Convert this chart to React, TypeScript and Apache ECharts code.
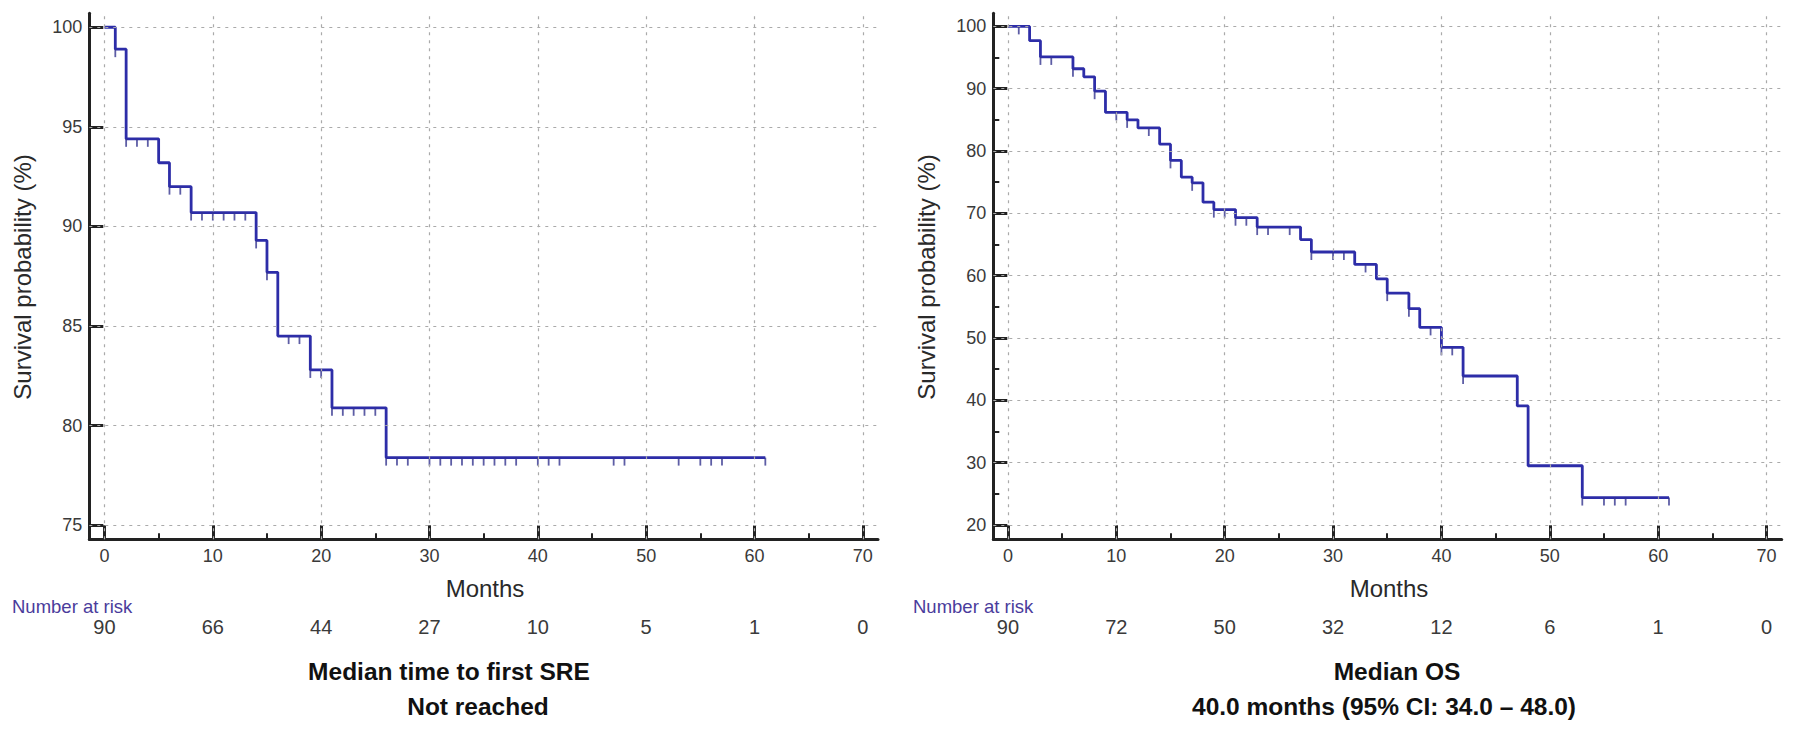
import React, { useEffect, useRef } from 'react';
import * as echarts from 'echarts';

// ---- Data: time to first SRE (left panel) ----
const sreTimes = [0, 1, 2, 5, 6, 8, 14, 15, 16, 19, 21, 26, 61];
const sreSurvival = [100, 98.9, 94.4, 93.2, 92.0, 90.7, 89.3, 87.7, 84.5, 82.8, 80.9, 78.4, 78.4];
const sreCensored = [1, 2, 3, 4, 6, 7, 8, 9, 10, 11, 12, 13, 14, 15, 17, 18, 19, 20, 21, 22, 23, 24, 25,
  26, 27, 28, 30, 31, 32, 33, 34, 35, 36, 37, 38, 40, 41, 42, 47, 48, 53, 55, 56, 57, 61];
const sreAtRisk = [90, 66, 44, 27, 10, 5, 1, 0];
const sreYTicks = [75, 80, 85, 90, 95, 100];

// ---- Data: overall survival (right panel) ----
const osTimes = [0, 2, 3, 6, 7, 8, 9, 11, 12, 14, 15, 16, 17, 18, 19, 21, 23, 27, 28, 32, 34, 35, 37, 38, 40, 42, 47, 48, 53, 61];
const osSurvival = [100, 97.7, 95.1, 93.2, 91.9, 89.6, 86.2, 85.0, 83.7, 81.1, 78.5, 75.8, 74.9, 71.8, 70.6, 69.3, 67.8,
  65.8, 63.8, 61.8, 59.5, 57.2, 54.7, 51.7, 48.5, 43.9, 39.1, 29.5, 24.4, 24.4];
const osCensored = [1, 3, 4, 6, 8, 10, 11, 13, 15, 17, 19, 20, 21, 22, 23, 24, 26, 28, 30, 31, 33, 35, 37, 39, 40, 41, 42,
  53, 55, 56, 57, 61];
const osAtRisk = [90, 72, 50, 32, 12, 6, 1, 0];
const osYTicks = [20, 30, 40, 50, 60, 70, 80, 90, 100];
const osYMinorTicks = [25, 35, 45, 55, 65, 75, 85, 95];

// ---- Shared axis ticks ----
const xTicks = [0, 10, 20, 30, 40, 50, 60, 70];
const xMinorTicks = [5, 15, 25, 35, 45, 55, 65];

const FONT = "'Liberation Sans', Arial, Helvetica, sans-serif";
const AXIS_COLOR = '#222222';
const LABEL_COLOR = '#3a3a3a';
const CURVE_COLOR = '#2d2da8';
const CENSOR_COLOR = '#35358e';
const GRID_COLOR = '#aaaaaa';
const RISK_COLOR = '#4a3c9c';

function levelAt(times: number[], surv: number[], t: number) {
  let v = surv[0];
  for (let i = 0; i < times.length; i++) if (times[i] <= t) v = surv[i];
  return v;
}

type Panel = {
  left: number; width: number;
  xMin: number; xMax: number; yMin: number; yMax: number;
  yTicks: number[]; yMinor: number[] | null;
  times: number[]; surv: number[]; censored: number[]; atRisk: number[];
};

const TOP = 13.3;
const HEIGHT = 526;

const panels: Panel[] = [
  { left: 89.3, width: 788.7, xMin: -1.4, xMax: 71.4, yMin: 74.3, yMax: 100.7,
    yTicks: sreYTicks, yMinor: null, times: sreTimes, surv: sreSurvival, censored: sreCensored, atRisk: sreAtRisk },
  { left: 993.3, width: 788.4, xMin: -1.35, xMax: 71.4, yMin: 17.7, yMax: 102.1,
    yTicks: osYTicks, yMinor: osYMinorTicks, times: osTimes, surv: osSurvival, censored: osCensored, atRisk: osAtRisk },
];

function buildOption() {
  const grid: any[] = [];
  const xAxis: any[] = [];
  const yAxis: any[] = [];
  const series: any[] = [];

  panels.forEach((p, g) => {
    grid.push({ left: p.left, top: TOP, width: p.width, height: HEIGHT, containLabel: false });
    const xMainIdx = xAxis.length;
    xAxis.push({
      type: 'value', gridIndex: g, min: p.xMin, max: p.xMax, position: 'bottom',
      axisLine: { show: true, onZero: false, lineStyle: { color: AXIS_COLOR, width: 3 } },
      axisTick: { show: true, inside: true, length: 14, customValues: xTicks, lineStyle: { color: AXIS_COLOR, width: 3 } },
      axisLabel: { show: true, customValues: xTicks, margin: 8, fontSize: 18, color: LABEL_COLOR, fontFamily: FONT },
      splitLine: { show: false },
    });
    xAxis.push({
      type: 'value', gridIndex: g, min: p.xMin, max: p.xMax, position: 'bottom',
      axisLine: { show: false, onZero: false },
      axisTick: { show: true, inside: true, length: 6, customValues: xMinorTicks, lineStyle: { color: AXIS_COLOR, width: 2 } },
      axisLabel: { show: false }, splitLine: { show: false },
    });
    const risk = p.atRisk;
    xAxis.push({
      type: 'value', gridIndex: g, min: p.xMin, max: p.xMax, position: 'bottom', offset: 78,
      axisLine: { show: false, onZero: false }, axisTick: { show: false },
      axisLabel: {
        show: true, customValues: xTicks, margin: 0, fontSize: 20, color: LABEL_COLOR, fontFamily: FONT,
        formatter: (v: number) => String(risk[xTicks.indexOf(Math.round(v))] ?? ''),
      },
      splitLine: { show: false },
    });
    const yMainIdx = yAxis.length;
    yAxis.push({
      type: 'value', gridIndex: g, min: p.yMin, max: p.yMax, position: 'left',
      axisLine: { show: true, onZero: false, lineStyle: { color: AXIS_COLOR, width: 3 } },
      axisTick: { show: true, inside: true, length: 14, customValues: p.yTicks, lineStyle: { color: AXIS_COLOR, width: 3 } },
      axisLabel: { show: true, customValues: p.yTicks, margin: 7, fontSize: 18, color: LABEL_COLOR, fontFamily: FONT },
      splitLine: { show: false },
    });
    if (p.yMinor) {
      yAxis.push({
        type: 'value', gridIndex: g, min: p.yMin, max: p.yMax, position: 'left',
        axisLine: { show: false, onZero: false },
        axisTick: { show: true, inside: true, length: 6, customValues: p.yMinor, lineStyle: { color: AXIS_COLOR, width: 2 } },
        axisLabel: { show: false }, splitLine: { show: false },
      });
    }

    series.push({
      type: 'line', xAxisIndex: xMainIdx, yAxisIndex: yMainIdx, data: [], z: 1, silent: true,
      markLine: {
        symbol: 'none', silent: true, animation: false, label: { show: false },
        lineStyle: { type: [3, 5], color: GRID_COLOR, width: 1.2 },
        emphasis: { disabled: true },
        data: [...xTicks.map((v) => ({ xAxis: v })), ...p.yTicks.map((v) => ({ yAxis: v }))],
      },
    });
    series.push({
      type: 'line', step: 'end', xAxisIndex: xMainIdx, yAxisIndex: yMainIdx, z: 3,
      data: p.times.map((t, i) => [t, p.surv[i]]),
      showSymbol: false, symbol: 'none',
      lineStyle: { color: CURVE_COLOR, width: 2.8 },
    });
    series.push({
      type: 'scatter', xAxisIndex: xMainIdx, yAxisIndex: yMainIdx, z: 4,
      data: p.censored.map((t) => [t, levelAt(p.times, p.surv, t)]),
      symbol: 'rect', symbolSize: [1.8, 8], symbolOffset: [0, 4],
      itemStyle: { color: CENSOR_COLOR },
    });
  });

  const text = (x: number, y: number, s: string, extra: any = {}, rotation = 0) => ({
    type: 'text', x, y, rotation, silent: true,
    style: { text: s, fontFamily: FONT, fontSize: 24, fill: '#2a2a2a', align: 'center', verticalAlign: 'middle', ...extra },
  });

  const graphic = [
    text(22, 277, 'Survival probability (%)', {}, Math.PI / 2),
    text(926, 277, 'Survival probability (%)', {}, Math.PI / 2),
    text(485, 588, 'Months'),
    text(1389, 588, 'Months'),
    text(12, 606, 'Number at risk', { fontSize: 18.5, fill: RISK_COLOR, align: 'left' }),
    text(913, 606, 'Number at risk', { fontSize: 18.5, fill: RISK_COLOR, align: 'left' }),
    text(449, 671, 'Median time to first SRE', { fontSize: 24.5, fontWeight: 'bold', fill: '#111' }),
    text(478, 706, 'Not reached', { fontSize: 24.5, fontWeight: 'bold', fill: '#111' }),
    text(1397, 671, 'Median OS', { fontSize: 24.5, fontWeight: 'bold', fill: '#111' }),
    text(1384, 706, '40.0 months (95% CI: 34.0 \u2013 48.0)', { fontSize: 24.5, fontWeight: 'bold', fill: '#111' }),
  ];

  return {
    animation: false,
    backgroundColor: '#ffffff',
    grid, xAxis, yAxis, series, graphic,
  };
}

export default function App() {
  const ref = useRef<HTMLDivElement>(null);
  useEffect(() => {
    if (!ref.current) return;
    const chart = echarts.init(ref.current, undefined, { renderer: 'svg' });
    chart.setOption(buildOption() as any);
    return () => chart.dispose();
  }, []);
  return (
    <div
      ref={ref}
      style={{ position: 'absolute', left: 0, top: 0, width: 1795, height: 732, background: '#fff' }}
    />
  );
}
